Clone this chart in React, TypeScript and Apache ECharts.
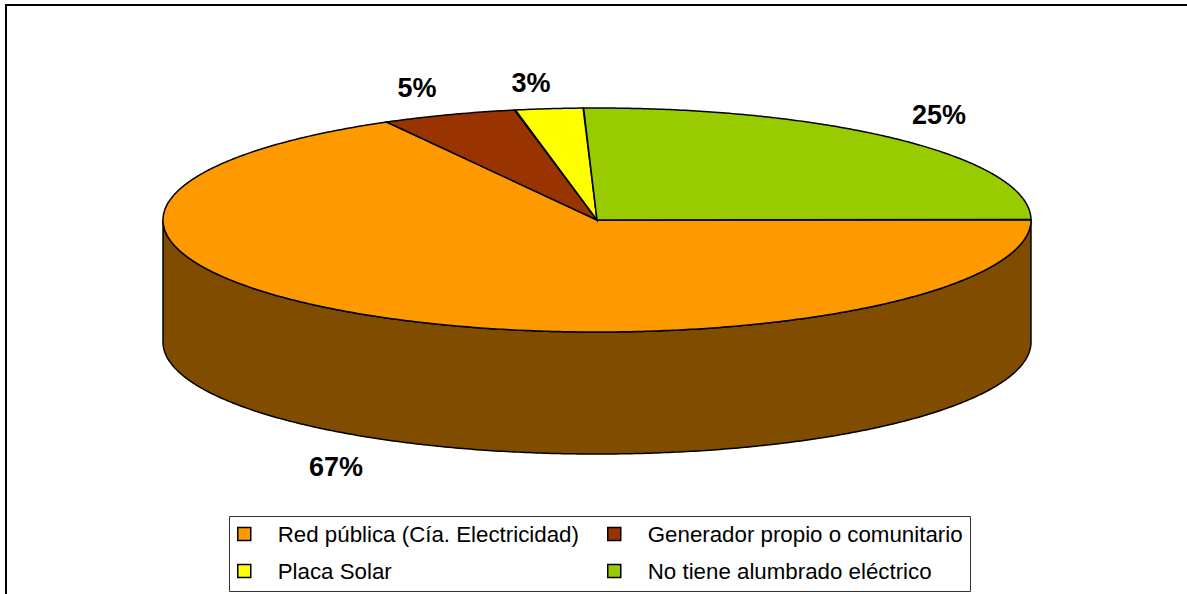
import React, { useEffect, useRef } from "react";
import * as echarts from "echarts";

const categories = [
  "Red pública (Cía. Electricidad)",
  "Generador propio o comunitario",
  "Placa Solar",
  "No tiene alumbrado eléctrico",
];
const values = [66.95, 5.04, 2.52, 25.49];
const topColors = ["#FF9900", "#993300", "#FFFF00", "#99CC00"];
const wallColors = ["#804D00", "#4D1A00", "#808000", "#4D6600"];

// layout only
const CX = 597;
const CY = 220;
const RX = 434;
const RY = 112;
const DEPTH = 122;
const labelSpots = [
  [336, 467],
  [417, 88],
  [531, 83],
  [939, 115],
];

const total = values.reduce((a, b) => a + b, 0);
const startOf = (i: number) =>
  values.slice(0, i).reduce((a, b) => a + b, 0);

const rimPoint = (deg: number, dy = 0) => {
  const t = (deg * Math.PI) / 180;
  return [CX + RX * Math.cos(t), CY + RY * Math.sin(t) + dy];
};

function renderSlice(params: any, api: any) {
  const i = params.seriesIndex;
  const a0 = (startOf(i) / total) * 360;
  const a1 = a0 + (api.value(0) / total) * 360;
  const children: any[] = [];

  // side wall: only the part of the rim facing the viewer (0°–180° clockwise)
  const w0 = Math.max(a0, 0);
  const w1 = Math.min(a1, 180);
  if (w1 > w0) {
    const front: number[][] = [];
    const back: number[][] = [];
    for (let d = w0; d <= w1 + 1e-6; d += Math.min(0.5, (w1 - w0) / 2)) {
      front.push(rimPoint(d));
      back.unshift(rimPoint(d, DEPTH));
    }
    children.push({
      type: "polygon",
      z2: 1,
      shape: { points: front.concat(back) },
      style: { fill: wallColors[i], stroke: "#000", lineWidth: 1.5 },
    });
  }

  // top face
  const pts: number[][] = [[CX, CY]];
  for (let d = a0; d <= a1 + 1e-6; d += Math.min(0.5, (a1 - a0) / 2)) {
    pts.push(rimPoint(d));
  }
  children.push({
    type: "polygon",
    z2: 2,
    shape: { points: pts },
    style: { fill: topColors[i], stroke: "#000", lineWidth: 1.5 },
  });

  // percentage label
  children.push({
    type: "text",
    z2: 3,
    x: labelSpots[i][0],
    y: labelSpots[i][1],
    style: {
      text: Math.round(api.value(0)) + "%",
      fill: "#000",
      font: 'bold 27px "Liberation Sans", Arial, sans-serif',
      align: "center",
      verticalAlign: "middle",
    },
  });

  return { type: "group", children };
}

const legendText = {
  fontFamily: '"Liberation Sans", Arial, sans-serif',
  fontSize: 22.3,
  color: "#000",
  padding: [0, 0, 0, 22],
};

const legendCommon = {
  orient: "vertical" as const,
  top: 523,
  itemWidth: 13,
  itemHeight: 13,
  itemGap: 15,
  padding: 0,
  selectedMode: false,
  icon: "rect",
  itemStyle: { borderColor: "#000", borderWidth: 1.5 },
  textStyle: legendText,
};

export default function App() {
  const ref = useRef<HTMLDivElement>(null);
  useEffect(() => {
    const chart = echarts.init(ref.current!, undefined, { renderer: "svg" });
    chart.setOption({
      animation: false,
      backgroundColor: "#fff",
      legend: [
        { ...legendCommon, left: 237, data: [categories[0], categories[2]] },
        { ...legendCommon, left: 607, data: [categories[1], categories[3]] },
      ],
      graphic: [
        {
          type: "polyline",
          z: -1,
          shape: { points: [[6, 600], [6, 5], [1190, 5]] },
          style: { fill: "none", stroke: "#000", lineWidth: 2 },
        },
        {
          type: "rect",
          z: -1,
          shape: { x: 229.5, y: 516.5, width: 741, height: 75 },
          style: { fill: "#fff", stroke: "#333", lineWidth: 1 },
        },
      ],
      series: categories.map((name, i) => ({
        type: "custom",
        name,
        coordinateSystem: "none",
        renderItem: renderSlice,
        itemStyle: { color: topColors[i] },
        data: [[values[i]]],
        silent: true,
      })),
    });
    return () => chart.dispose();
  }, []);
  return (
    <div
      ref={ref}
      style={{ position: "fixed", left: 0, top: 0, width: 1187, height: 594 }}
    />
  );
}
